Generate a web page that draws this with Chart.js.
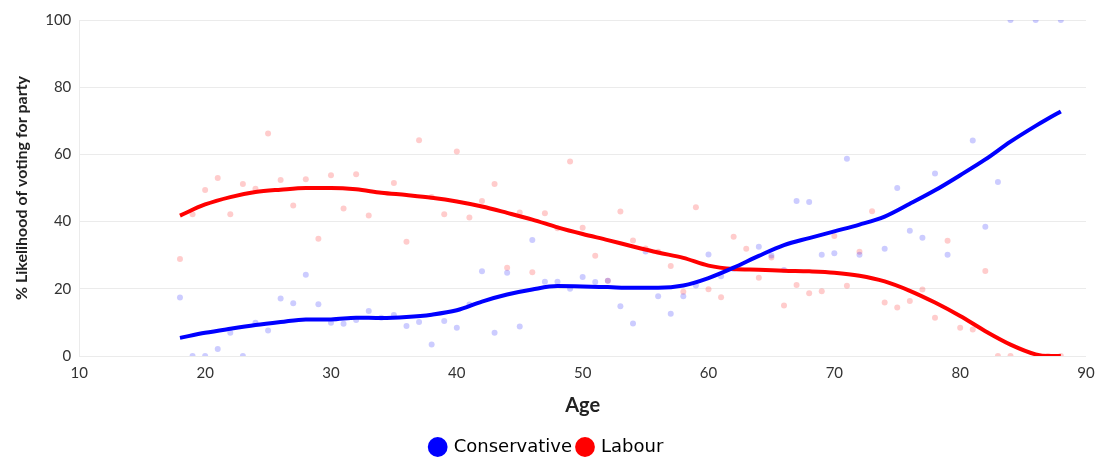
<!DOCTYPE html>
<html>
<head>
<meta charset="utf-8">
<script src="https://cdn.jsdelivr.net/npm/chart.js@4"></script>
<style>
  body { margin: 0; background: #fff; }
  #wrap { width: 1100px; height: 458px; }
</style>
</head>
<body>
<div id="wrap"><canvas id="chart"></canvas></div>
<script>
'use strict';

// survey points: age -> % likelihood
const conAges = [18,19,20,21,22,23,24,25,26,27,28,29,30,31,32,33,34,35,36,37,38,39,40,41,42,43,44,45,46,47,48,49,50,51,52,53,54,55,56,57,58,59,60,61,62,64,65,66,67,68,69,70,71,72,74,75,76,77,78,79,81,82,83,84,86,88];
const conValues = [17.4,0,0,2.1,6.9,0,9.9,7.6,17.1,15.7,24.2,15.4,9.9,9.6,10.7,13.4,11.4,12.2,8.9,10.1,3.4,10.4,8.4,15.3,25.2,6.9,24.8,8.8,34.5,22.1,22.1,20,23.5,22,22.4,14.8,9.7,31.1,17.8,12.6,17.8,21,30.2,23.7,25.9,32.5,29.9,25.6,46.1,45.8,30.1,30.6,58.7,30.1,31.9,50,37.3,35.2,54.3,30.1,64.1,38.5,51.8,100,100,100];

const labAges = [18,19,20,21,22,23,24,25,26,27,28,29,30,31,32,33,35,36,37,38,39,40,41,42,43,44,45,46,47,48,49,50,51,52,53,54,55,56,57,58,59,60,61,62,63,64,65,66,67,68,69,70,71,72,73,74,75,76,77,78,79,80,81,82,83,84,86,87,88];
const labValues = [28.9,42.2,49.4,53,42.2,51.2,49.8,66.2,52.4,44.8,52.6,34.9,53.8,43.9,54.1,41.8,51.5,34,64.2,47.3,42.2,60.9,41.2,46.1,51.2,26.3,42.7,24.9,42.5,38,57.9,38.2,29.8,22.4,43,34.4,32,31,26.8,19.1,44.3,19.9,17.5,35.5,31.9,23.3,29.3,15,21.1,18.7,19.3,35.7,20.9,31,43.1,15.9,14.4,16.4,19.8,11.4,34.3,8.4,7.9,25.3,0,0,0,0,0];

// smoothed trend lines
const trendAges = [18,20,22,24,26,28,30,32,34,36,38,40,42,44,46,48,50,52,54,56,58,60,62,64,66,68,70,72,74,76,78,80,82,84,86,87,88];
const conTrend = [5.4,6.9,8.1,9.2,10.1,10.9,10.9,11.4,11.3,11.6,12.3,13.6,16.2,18.3,19.8,20.8,20.7,20.5,20.3,20.3,21,23.2,26.3,29.8,33,35.1,37.1,39.1,41.5,45.3,49.3,53.8,58.5,63.8,68.5,70.7,72.8];
const labTrend = [41.8,45.1,47.3,48.8,49.5,50,50,49.6,48.6,47.9,47.1,46,44.5,42.6,40.6,38.3,36.3,34.5,32.6,30.8,29.2,26.9,25.9,25.7,25.4,25.2,24.8,23.9,22.2,19.4,15.9,11.9,7.4,3.4,0.5,0,0];

const xTicks = [10,20,30,40,50,60,70,80,90];

const toPoints = (xs, ys) => xs.map((x, i) => ({ x: x, y: ys[i] }));

const FONT = 'Lato, "Open Sans", sans-serif';
const BLUE = 'rgb(0,0,255)';
const RED = 'rgb(255,0,0)';

const ctx = document.getElementById('chart');

new Chart(ctx, {
  type: 'scatter',
  data: {
    datasets: [
      {
        label: 'Conservative',
        type: 'line',
        data: toPoints(trendAges, conTrend),
        borderColor: BLUE,
        backgroundColor: BLUE,
        borderWidth: 4,
        pointRadius: 0,
        cubicInterpolationMode: 'monotone',
        fill: false,
        order: 1
      },
      {
        label: 'Labour',
        type: 'line',
        data: toPoints(trendAges, labTrend),
        borderColor: RED,
        backgroundColor: RED,
        borderWidth: 4,
        pointRadius: 0,
        cubicInterpolationMode: 'monotone',
        fill: false,
        order: 1
      },
      {
        label: 'con-points',
        data: toPoints(conAges, conValues),
        backgroundColor: 'rgba(0,0,255,0.2)',
        borderWidth: 0,
        pointRadius: 3,
        order: 2
      },
      {
        label: 'lab-points',
        data: toPoints(labAges, labValues),
        backgroundColor: 'rgba(255,0,0,0.2)',
        borderWidth: 0,
        pointRadius: 3,
        order: 2
      }
    ]
  },
  options: {
    responsive: true,
    maintainAspectRatio: false,
    animation: false,
    layout: { padding: { top: 20, right: 14, left: 8, bottom: -8 } },
    plugins: {
      tooltip: { enabled: false },
      legend: {
        position: 'bottom',
        labels: {
          filter: (item) => item.text === 'Conservative' || item.text === 'Labour',
          usePointStyle: true,
          pointStyle: 'circle',
          boxWidth: 14,
          boxHeight: 14,
          padding: 6,
          color: '#222',
          font: { family: '"DejaVu Sans", sans-serif', size: 18 },
          generateLabels: (chart) => chart.data.datasets.map((ds, i) => ({
            text: ds.label,
            fillStyle: ds.borderColor || ds.backgroundColor,
            strokeStyle: ds.borderColor || ds.backgroundColor,
            lineWidth: 0,
            pointStyle: 'circle',
            datasetIndex: i
          }))
        }
      }
    },
    scales: {
      x: {
        type: 'linear',
        min: 10,
        max: 90,
        afterBuildTicks: (axis) => { axis.ticks = xTicks.map(v => ({ value: v })); },
        grid: { display: false },
        border: { display: false },
        ticks: { color: '#333', font: { family: FONT, size: 15 }, padding: 0 },
        title: {
          display: true,
          text: 'Age',
          color: '#222',
          font: { family: FONT, size: 20, weight: 'bold' },
          padding: { top: 12, bottom: 14 }
        }
      },
      y: {
        min: 0,
        max: 100,
        ticks: { stepSize: 20, color: '#333', font: { family: FONT, size: 15 }, padding: 8 },
        grid: { color: '#ebebeb', drawTicks: false },
        border: { display: true, color: '#ebebeb' },
        title: {
          display: true,
          text: '% Likelihood of voting for party',
          color: '#222',
          font: { family: FONT, size: 16, weight: 'bold' },
          padding: { bottom: 6 }
        }
      }
    }
  }
});
</script>
</body>
</html>
